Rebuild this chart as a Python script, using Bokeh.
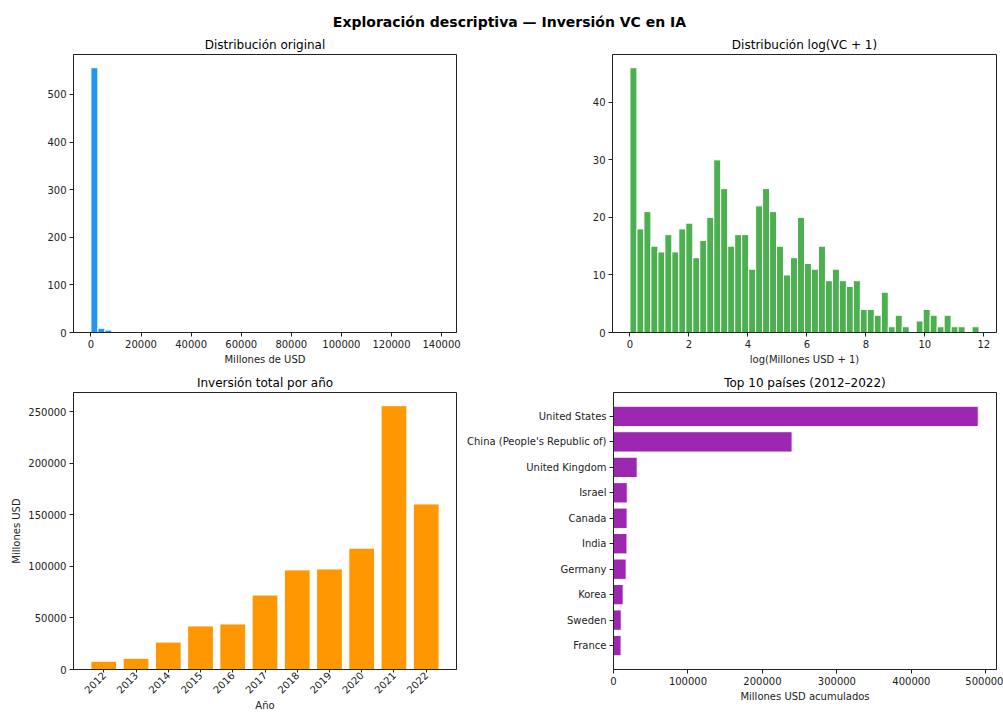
import numpy as np
from bokeh.plotting import figure
from bokeh.layouts import column, row
from bokeh.models import Range1d, FixedTicker
from bokeh.embed import file_html
from bokeh.resources import INLINE
from bokeh.core.properties import value

FONT = "DejaVu Sans"

# --- data -------------------------------------------------------------------
# Histogram of raw deal sizes (50 equal bins from 0 to the maximum)
orig_counts = [556, 9, 5, 0, 0, 0, 0, 0, 0, 0,
               0, 0, 0, 0, 0, 0, 0, 0, 0, 0,
               0, 0, 0, 0, 0, 0, 0, 0, 0, 0,
               0, 0, 0, 0, 0, 0, 0, 0, 0, 0,
               0, 0, 0, 0, 0, 0, 0, 0, 0, 0]
orig_max = 139000

# Histogram of log(VC + 1) (50 equal bins from 0 to the maximum)
log_counts = [46, 18, 21, 15, 14, 17, 14, 18, 19, 13,
              16, 20, 30, 25, 15, 17, 17, 11, 22, 25,
              21, 15, 10, 13, 20, 12, 11, 15, 9, 11,
              9, 8, 9, 4, 4, 3, 7, 1, 3, 1,
              0, 2, 4, 3, 1, 3, 1, 1, 0, 1]
log_max = 11.84

years = [2012, 2013, 2014, 2015, 2016, 2017, 2018, 2019, 2020, 2021, 2022]
year_totals = [8000, 10900, 26600, 42300, 44200, 72300, 96700, 97600,
               117800, 256100, 160700]

countries = ["United States", "China (People's Republic of)", "United Kingdom",
             "Israel", "Canada", "India", "Germany", "Korea", "Sweden", "France"]
country_totals = [489800, 239800, 31800, 18500, 18300, 18100, 17000, 13000,
                  10400, 10200]

BLUE = "#2196F3"
GREEN = "#4CAF50"
ORANGE = "#FF9800"
PURPLE = "#9C27B0"


def make_fig(title, width, height, left, right, top, bottom, x_range, y_range):
    p = figure(width=width, height=height, x_range=x_range, y_range=y_range,
               toolbar_location=None, output_backend="svg", title=title,
               min_border_left=left, min_border_right=right,
               min_border_top=top, min_border_bottom=bottom)
    p.title.align = "center"
    p.title.text_font = FONT
    p.title.text_font_size = "12px"
    p.title.text_font_style = "normal"
    p.title.text_color = "black"
    p.title.standoff = 6
    p.title.offset = 0
    p.grid.visible = False
    p.outline_line_color = "#222222"
    p.outline_line_width = 1
    p.background_fill_color = "white"
    p.border_fill_color = "white"
    for ax in p.axis:
        ax.axis_line_color = "#222222"
        ax.major_tick_out = 4
        ax.major_tick_in = 0
        ax.major_tick_line_color = "#222222"
        ax.minor_tick_line_color = None
        ax.major_label_text_font = FONT
        ax.major_label_text_font_size = "10px"
        ax.major_label_text_color = "#222222"
        ax.major_label_standoff = 3
        ax.axis_label_text_font = FONT
        ax.axis_label_text_font_size = "10px"
        ax.axis_label_text_font_style = "normal"
        ax.axis_label_text_color = "#222222"
        ax.axis_label_standoff = 3
    return p


# --- suptitle ---------------------------------------------------------------
head = figure(width=1003, height=32, x_range=(0, 1003), y_range=(0, 32),
              toolbar_location=None, output_backend="svg",
              min_border=0)
head.axis.visible = False
head.grid.visible = False
head.outline_line_color = None
head.text(x=[509], y=[11], text=["Exploración descriptiva — Inversión VC en IA"],
          text_font=value(FONT), text_font_size="14px", text_font_style="bold",
          text_align="center", text_baseline="middle", text_color="black")

# --- original distribution --------------------------------------------------
edges = np.linspace(0, orig_max, len(orig_counts) + 1)
span = orig_max
p1 = make_fig("Distribución original", 530, 338, 73, 74, 21, 38,
              Range1d(-0.05 * span, orig_max + 0.05 * span),
              Range1d(0, max(orig_counts) * 1.05))
p1.quad(left=edges[:-1], right=edges[1:], bottom=0, top=orig_counts,
        fill_color=BLUE, line_color="white", line_width=1)
p1.xaxis.axis_label = "Millones de USD"
p1.xaxis.ticker = FixedTicker(ticks=[0, 20000, 40000, 60000, 80000, 100000, 120000, 140000])
p1.yaxis.ticker = FixedTicker(ticks=[0, 100, 200, 300, 400, 500])
p1.xaxis.formatter.use_scientific = False

# --- log distribution -------------------------------------------------------
ledges = np.linspace(0, log_max, len(log_counts) + 1)
p2 = make_fig("Distribución log(VC + 1)", 473, 338, 82, 7, 21, 38,
              Range1d(-0.05 * log_max, log_max * 1.05),
              Range1d(0, max(log_counts) * 1.05))
p2.quad(left=ledges[:-1], right=ledges[1:], bottom=0, top=log_counts,
        fill_color=GREEN, line_color="white", line_width=1)
p2.xaxis.axis_label = "log(Millones USD + 1)"
p2.xaxis.ticker = FixedTicker(ticks=[0, 2, 4, 6, 8, 10, 12])
p2.yaxis.ticker = FixedTicker(ticks=[0, 10, 20, 30, 40])

# --- yearly totals ----------------------------------------------------------
p3 = make_fig("Inversión total por año", 460, 344, 73, 4, 21, 43,
              Range1d(years[0] - 0.94, years[-1] + 0.94),
              Range1d(0, max(year_totals) * 1.05))
p3.vbar(x=years, top=year_totals, width=0.8, fill_color=ORANGE,
        line_color="white", line_width=1)
p3.xaxis.axis_label = "Año"
p3.yaxis.axis_label = "Millones USD"
p3.xaxis.ticker = FixedTicker(ticks=years)
p3.xaxis.major_label_orientation = np.pi / 4
p3.xaxis.major_label_standoff = 1
p3.xaxis.axis_label_standoff = 0
p3.xaxis.major_tick_out = 3
p3.yaxis.ticker = FixedTicker(ticks=[0, 50000, 100000, 150000, 200000, 250000])
p3.yaxis.formatter.use_scientific = False

# --- top countries ----------------------------------------------------------
pos = list(range(len(countries)))
p4 = make_fig("Top 10 países (2012–2022)", 543, 344, 153, 7, 21, 43,
              Range1d(0, max(country_totals) * 1.05),
              Range1d(len(countries) - 1 + 0.94, -0.94))
p4.hbar(y=pos, right=country_totals, left=0, height=0.8, fill_color=PURPLE,
        line_color="white", line_width=1)
p4.xaxis.axis_label = "Millones USD acumulados"
p4.xaxis.ticker = FixedTicker(ticks=[0, 100000, 200000, 300000, 400000, 500000])
p4.xaxis.formatter.use_scientific = False
p4.yaxis.ticker = FixedTicker(ticks=pos)
p4.yaxis.major_label_overrides = {i: c for i, c in enumerate(countries)}

layout = column(head, row(p1, p2), row(p3, p4))

open("out.html", "w").write(file_html(layout, INLINE))
